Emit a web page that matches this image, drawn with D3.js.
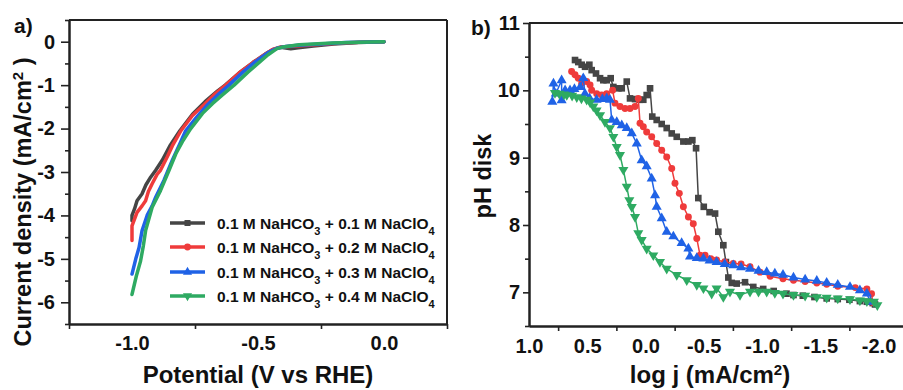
<!DOCTYPE html>
<html>
<head>
<meta charset="utf-8">
<script src="https://cdn.jsdelivr.net/npm/d3@7"></script>
<style>
  body { margin: 0; background: #fff; }
  svg text { font-family: "Liberation Sans", Arial, sans-serif; font-weight: bold; fill: #111; }
</style>
</head>
<body>
<div id="chart"></div>
<script>
// legend entries: NaClO4 concentration
const concentrations = ["0.1", "0.2", "0.3", "0.4"];
const colors = ["#454545", "#ef3b3b", "#1f62e6", "#2eaa62"];
const symbols = [d3.symbolSquare, d3.symbolCircle, d3.symbolTriangle, d3.symbolTriangle];

// a) LSV: [potential V vs RHE, current density mA/cm2]
const lsv01 = [[-1.0,-4.12],[-1.0,-4.0],[-0.99,-3.85],[-0.98,-3.66],[-0.96,-3.5],[-0.945,-3.3],[-0.926,-3.12],[-0.906,-2.96],[-0.88,-2.73],[-0.85,-2.4],[-0.81,-2.05],[-0.76,-1.67],[-0.71,-1.38],[-0.66,-1.13],[-0.63,-1.0],[-0.575,-0.72],[-0.52,-0.48],[-0.47,-0.28],[-0.44,-0.18],[-0.41,-0.13],[-0.37,-0.16],[-0.34,-0.14],[-0.28,-0.1],[-0.2,-0.05],[-0.1,-0.02],[0,0]];
const lsv02 = [[-1.0,-4.58],[-1.0,-4.24],[-0.98,-3.93],[-0.96,-3.78],[-0.946,-3.66],[-0.935,-3.45],[-0.92,-3.27],[-0.9,-3.05],[-0.887,-2.96],[-0.86,-2.65],[-0.84,-2.4],[-0.806,-2.05],[-0.76,-1.7],[-0.714,-1.45],[-0.67,-1.2],[-0.628,-1.0],[-0.575,-0.72],[-0.52,-0.48],[-0.47,-0.28],[-0.444,-0.185],[-0.41,-0.12],[-0.35,-0.1],[-0.3,-0.08],[-0.2,-0.04],[-0.1,-0.015],[0,0]];
const lsv03 = [[-1.0,-5.35],[-0.985,-5.0],[-0.972,-4.74],[-0.96,-4.35],[-0.94,-4.0],[-0.92,-3.78],[-0.906,-3.58],[-0.873,-3.19],[-0.84,-2.73],[-0.81,-2.35],[-0.787,-2.05],[-0.745,-1.75],[-0.7,-1.45],[-0.655,-1.2],[-0.615,-1.0],[-0.56,-0.7],[-0.51,-0.46],[-0.46,-0.25],[-0.425,-0.15],[-0.39,-0.11],[-0.34,-0.08],[-0.25,-0.05],[-0.15,-0.02],[0,0]];
const lsv04 = [[-1.0,-5.82],[-0.983,-5.4],[-0.966,-5.05],[-0.955,-4.7],[-0.946,-4.35],[-0.92,-3.81],[-0.887,-3.43],[-0.853,-2.96],[-0.826,-2.58],[-0.8,-2.3],[-0.767,-2.0],[-0.72,-1.65],[-0.68,-1.42],[-0.64,-1.22],[-0.595,-1.0],[-0.54,-0.7],[-0.5,-0.5],[-0.46,-0.3],[-0.425,-0.16],[-0.4,-0.12],[-0.337,-0.07],[-0.206,-0.03],[-0.1,-0.01],[0,0]];

// b) pH at the disk: [log j, pH]
const ph01 = [[0.605,10.45],[0.577,10.42],[0.548,10.38],[0.519,10.35],[0.482,10.38],[0.462,10.3],[0.425,10.25],[0.39,10.18],[0.362,10.15],[0.333,10.15],[0.299,10.18],[0.276,10.05],[0.233,10.03],[0.204,10.03],[0.161,10.13],[0.133,9.88],[0.09,9.87],[0.047,9.86],[0.019,9.86],[-0.01,9.93],[-0.039,10.03],[-0.058,9.61],[-0.096,9.56],[-0.139,9.5],[-0.182,9.44],[-0.225,9.36],[-0.268,9.31],[-0.325,9.24],[-0.368,9.24],[-0.402,9.26],[-0.434,9.14],[-0.453,8.4],[-0.5,8.27],[-0.55,8.19],[-0.597,8.17],[-0.625,7.9],[-0.668,7.7],[-0.69,7.45],[-0.711,7.22],[-0.74,7.14],[-0.783,7.13],[-0.854,7.15],[-0.925,7.08],[-1.01,7.05],[-1.1,7.02],[-1.21,6.98],[-1.27,6.96],[-1.35,6.95],[-1.45,6.93],[-1.555,6.91],[-1.65,6.9],[-1.75,6.89],[-1.84,6.87],[-1.9,6.86],[-1.95,6.84],[-1.97,6.82]];
const ph02 = [[0.634,10.28],[0.605,10.23],[0.577,10.18],[0.548,10.1],[0.505,10.13],[0.476,10.08],[0.462,10.0],[0.419,9.95],[0.376,9.93],[0.333,9.95],[0.282,10.0],[0.262,9.81],[0.219,9.76],[0.176,9.73],[0.133,9.73],[0.09,9.76],[0.062,9.88],[0.047,9.51],[0.019,9.46],[-0.01,9.38],[-0.053,9.31],[-0.096,9.21],[-0.139,9.11],[-0.182,9.01],[-0.225,8.84],[-0.253,8.62],[-0.29,8.47],[-0.325,8.27],[-0.368,8.12],[-0.41,8.02],[-0.44,7.8],[-0.468,7.55],[-0.511,7.55],[-0.56,7.5],[-0.61,7.48],[-0.68,7.45],[-0.753,7.43],[-0.82,7.42],[-0.897,7.38],[-0.983,7.3],[-1.07,7.24],[-1.18,7.2],[-1.27,7.18],[-1.37,7.16],[-1.47,7.14],[-1.555,7.12],[-1.65,7.09],[-1.8,7.07],[-1.9,7.05],[-1.94,6.98],[-1.95,6.85]];
const ph03 = [[0.8,9.83],[0.79,10.1],[0.77,9.95],[0.72,10.15],[0.72,9.85],[0.69,10.0],[0.648,10.0],[0.61,10.02],[0.56,10.05],[0.534,10.18],[0.52,9.95],[0.48,9.88],[0.42,9.86],[0.37,9.87],[0.333,9.88],[0.305,9.86],[0.29,9.56],[0.247,9.53],[0.204,9.48],[0.161,9.44],[0.118,9.36],[0.075,9.21],[0.033,8.96],[-0.01,8.87],[-0.053,8.69],[-0.082,8.44],[-0.096,8.27],[-0.139,8.1],[-0.182,7.9],[-0.239,7.83],[-0.31,7.73],[-0.368,7.65],[-0.382,7.53],[-0.44,7.51],[-0.497,7.5],[-0.55,7.47],[-0.61,7.45],[-0.68,7.42],[-0.753,7.4],[-0.82,7.37],[-0.897,7.35],[-0.97,7.32],[-1.04,7.3],[-1.11,7.28],[-1.18,7.26],[-1.27,7.22],[-1.37,7.19],[-1.47,7.17],[-1.555,7.14],[-1.65,7.11],[-1.755,7.08],[-1.84,7.03],[-1.9,6.98],[-1.93,6.86]];
const ph04 = [[0.777,9.96],[0.74,9.95],[0.7,9.94],[0.676,9.93],[0.63,9.92],[0.59,9.9],[0.55,9.88],[0.505,9.86],[0.475,9.82],[0.448,9.76],[0.42,9.7],[0.39,9.63],[0.348,9.53],[0.305,9.44],[0.276,9.31],[0.247,9.16],[0.219,9.04],[0.19,8.82],[0.161,8.57],[0.139,8.37],[0.118,8.27],[0.09,8.12],[0.062,7.88],[0.033,7.78],[-0.01,7.65],[-0.067,7.55],[-0.124,7.45],[-0.182,7.35],[-0.268,7.26],[-0.354,7.18],[-0.44,7.11],[-0.497,7.06],[-0.568,6.98],[-0.61,7.06],[-0.668,6.93],[-0.725,7.01],[-0.811,6.96],[-0.897,7.01],[-0.97,7.01],[-1.04,7.01],[-1.11,6.99],[-1.18,6.98],[-1.27,6.96],[-1.37,6.95],[-1.47,6.93],[-1.555,6.92],[-1.65,6.91],[-1.755,6.9],[-1.84,6.88],[-1.9,6.87],[-1.96,6.86],[-1.99,6.81]];

const lsvSeries = [lsv01, lsv02, lsv03, lsv04];
const phSeries = [ph01, ph02, ph03, ph04];

const aXTicks = [-1.0, -0.5, 0.0];
const aXMinor = [-1.25, -0.75, -0.25, 0.25];
const aYTicks = [0, -1, -2, -3, -4, -5, -6];
const aYMinor = [0.5, -0.5, -1.5, -2.5, -3.5, -4.5, -5.5, -6.5];
const bXTicks = [1.0, 0.5, 0.0, -0.5, -1.0, -1.5, -2.0];
const bXMinor = [0.75, 0.25, -0.25, -0.75, -1.25, -1.75];
const bYTicks = [7, 8, 9, 10, 11];
const bYMinor = [6.5, 7.5, 8.5, 9.5, 10.5];

const W = 903, H = 390;
const svg = d3.select("#chart").append("svg").attr("width", W).attr("height", H);

const xA = d3.scaleLinear().domain([-1.25, 0.25]).range([69, 447]);
const yA = d3.scaleLinear().domain([-6.5, 0.5]).range([324, 20]);
const xB = d3.scaleLinear().domain([1.0, -2.21]).range([529, 903]);
const yB = d3.scaleLinear().domain([6.5, 11]).range([326, 23]);

function styleAxis(g, fontSize) {
    g.select(".domain").attr("stroke", "#222").attr("stroke-width", 2);
    g.selectAll(".tick line").attr("stroke", "#222").attr("stroke-width", 1.6);
    g.selectAll(".tick text").attr("fill", "#111").style("font-size", fontSize + "px")
        .style("font-family", "'Liberation Sans', Arial, sans-serif").style("font-weight", "bold");
}

// ---------- panel a ----------
const ga = svg.append("g");
const fmt1 = d => d === 0 ? "0.0" : d3.format(".1f")(d).replace("−", "-");

ga.append("g").attr("transform", "translate(0,324)")
    .call(d3.axisBottom(xA).tickValues(aXMinor).tickSize(5).tickFormat("").tickSizeOuter(0))
    .call(g => styleAxis(g, 20));
ga.append("g").attr("transform", "translate(0,324)")
    .call(d3.axisBottom(xA).tickValues(aXTicks).tickSize(0).tickPadding(12).tickFormat(fmt1).tickSizeOuter(0))
    .call(g => styleAxis(g, 20));
ga.append("g").attr("transform", "translate(69,0)")
    .call(d3.axisLeft(yA).tickValues(aYMinor).tickSize(4).tickFormat("").tickSizeOuter(0))
    .call(g => styleAxis(g, 20));
ga.append("g").attr("transform", "translate(69,0)")
    .call(d3.axisLeft(yA).tickValues(aYTicks).tickSize(8).tickPadding(6).tickFormat(d => d3.format("d")(d).replace("−", "-")).tickSizeOuter(0))
    .call(g => styleAxis(g, 20));
// top and right frame
ga.append("line").attr("x1", 69).attr("x2", 447).attr("y1", 20).attr("y2", 20).attr("stroke", "#222").attr("stroke-width", 2);
ga.append("line").attr("x1", 447).attr("x2", 447).attr("y1", 20).attr("y2", 324).attr("stroke", "#222").attr("stroke-width", 2);

const lineA = d3.line().x(d => xA(d[0])).y(d => yA(d[1]));
lsvSeries.forEach((s, i) => {
    ga.append("path").datum(s).attr("d", lineA)
        .attr("fill", "none").attr("stroke", colors[i]).attr("stroke-width", 3.5)
        .attr("stroke-linejoin", "round").attr("stroke-linecap", "round");
});

// legend
const legendY = [223, 247, 272, 296];
concentrations.forEach((c, i) => {
    const row = ga.append("g").attr("transform", `translate(0,${legendY[i]})`);
    row.append("line").attr("x1", 170).attr("x2", 205).attr("stroke", colors[i]).attr("stroke-width", 3.5);
    row.append("path").attr("transform", `translate(187.5,0) rotate(${i === 3 ? 180 : 0})`)
        .attr("d", d3.symbol(symbols[i], 36)()).attr("fill", colors[i]);
    const t = row.append("text").attr("x", 217).attr("y", 6).style("font-size", "15.5px");
    t.append("tspan").text("0.1 M NaHCO");
    t.append("tspan").attr("baseline-shift", "sub").style("font-size", "11px").text("3");
    t.append("tspan").text(` + ${c} M NaClO`);
    t.append("tspan").attr("baseline-shift", "sub").style("font-size", "11px").text("4");
});

ga.append("text").attr("x", 14).attr("y", 33).style("font-size", "21px").text("a)");
const ta = ga.append("text").attr("x", 258).attr("y", 383).attr("text-anchor", "middle").style("font-size", "24px");
ta.text("Potential (V vs RHE)");
const tya = ga.append("text").attr("transform", "translate(31,202) rotate(-90)")
    .attr("text-anchor", "middle").style("font-size", "23.5px");
tya.append("tspan").text("Current density (mA/cm");
tya.append("tspan").attr("baseline-shift", "super").style("font-size", "15px").text("2");
tya.append("tspan").text(" )");

// ---------- panel b ----------
const gb = svg.append("g");
gb.append("g").attr("transform", "translate(0,326)")
    .call(d3.axisBottom(xB).tickValues(bXMinor).tickSize(5).tickFormat("").tickSizeOuter(0))
    .call(g => styleAxis(g, 20));
gb.append("g").attr("transform", "translate(0,326)")
    .call(d3.axisBottom(xB).tickValues(bXTicks).tickSize(0).tickPadding(13).tickFormat(fmt1).tickSizeOuter(0))
    .call(g => styleAxis(g, 20));
gb.append("g").attr("transform", "translate(529,0)")
    .call(d3.axisLeft(yB).tickValues(bYMinor).tickSize(4).tickFormat("").tickSizeOuter(0))
    .call(g => styleAxis(g, 20));
gb.append("g").attr("transform", "translate(529,0)")
    .call(d3.axisLeft(yB).tickValues(bYTicks).tickSize(6).tickPadding(3).tickFormat(d3.format("d")).tickSizeOuter(0))
    .call(g => styleAxis(g, 20));
gb.append("line").attr("x1", 529).attr("x2", 903).attr("y1", 23).attr("y2", 23).attr("stroke", "#222").attr("stroke-width", 2);

const lineB = d3.line().x(d => xB(d[0])).y(d => yB(d[1]));
phSeries.forEach((s, i) => {
    const g = gb.append("g");
    g.append("path").datum(s).attr("d", lineB)
        .attr("fill", "none").attr("stroke", colors[i]).attr("stroke-width", 1.5);
    g.selectAll("path.pt").data(s).enter().append("path").attr("class", "pt")
        .attr("transform", d => `translate(${xB(d[0])},${yB(d[1])}) rotate(${i === 3 ? 180 : 0})`)
        .attr("d", d3.symbol(symbols[i], i === 1 ? 38 : 44)())
        .attr("fill", colors[i]);
});

gb.append("text").attr("x", 471).attr("y", 35).style("font-size", "21px").text("b)");
gb.append("text").attr("x", 710).attr("y", 383).attr("text-anchor", "middle").style("font-size", "24px")
    .call(t => {
        t.append("tspan").text("log j (mA/cm");
        t.append("tspan").attr("baseline-shift", "super").style("font-size", "15px").text("2");
        t.append("tspan").text(")");
    });
gb.append("text").attr("transform", "translate(491,176) rotate(-90)")
    .attr("text-anchor", "middle").style("font-size", "23.5px").text("pH disk");
</script>
</body>
</html>
